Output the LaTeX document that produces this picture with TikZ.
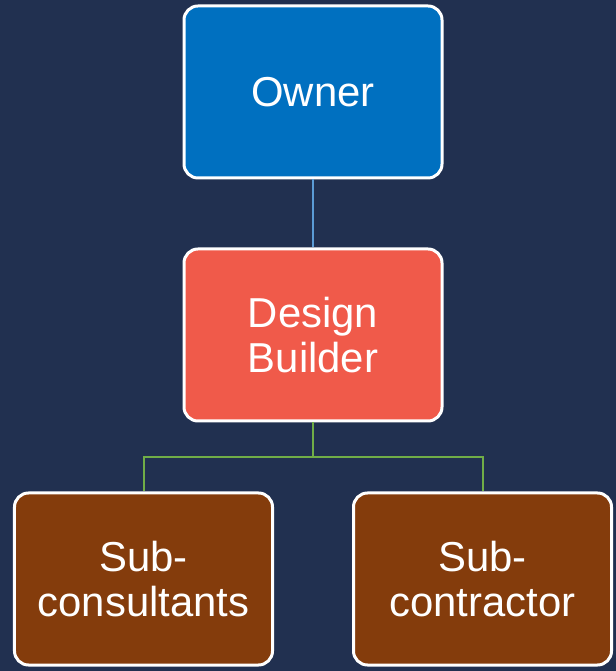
\documentclass[tikz,border=0pt]{standalone}
\usepackage{fontspec}
\setmainfont{Liberation Sans}
\definecolor{bg}{RGB}{33,48,80}
\definecolor{ownerc}{RGB}{0,112,192}
\definecolor{dbc}{RGB}{240,90,74}
\definecolor{subc}{RGB}{132,60,12}
\definecolor{blueline}{RGB}{91,155,213}
\definecolor{greenline}{RGB}{112,173,71}
\begin{document}
\begin{tikzpicture}[x=1bp,y=1bp,
  box/.style={draw=white, line width=3bp, rounded corners=14bp,
    minimum width=258bp, minimum height=172bp, text=white,
    align=center, font=\fontsize{42}{45}\selectfont, inner sep=0pt},
  conn/.style={line width=2bp}]
\fill[bg] (0,0) rectangle (616,671);
\useasboundingbox (0,0) rectangle (616,671);
\node[box, fill=ownerc] (owner) at (313,579) {Owner};
\node[box, fill=dbc] (db) at (313,336) {Design\\Builder};
\node[box, fill=subc] (sc) at (143.5,92) {Sub-\\consultants};
\node[box, fill=subc] (sk) at (482.5,92) {Sub-\\contractor};
\coordinate (mid) at (313,214);
\draw[conn, blueline] (owner.south) -- (db.north);
\draw[conn, greenline] (db.south) -- (mid) -| (sc.north);
\draw[conn, greenline] (mid) -| (sk.north);
\end{tikzpicture}
\end{document}
